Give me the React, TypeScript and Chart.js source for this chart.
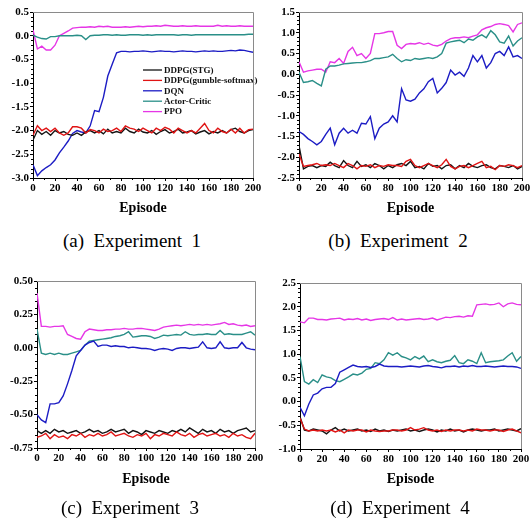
import React, { useEffect, useRef } from "react";
import { Chart, registerables } from "chart.js";

Chart.register(...registerables);

// ---------- data ----------
const EPISODES = [
  0, 4, 8, 12, 16, 20, 24, 28, 32, 36,
  40, 44, 48, 52, 56, 60, 64, 68, 72, 76,
  80, 84, 88, 92, 96, 100, 104, 108, 112, 116,
  120, 124, 128, 132, 136, 140, 144, 148, 152, 156,
  160, 164, 168, 172, 176, 180, 184, 188, 192, 196,
  200,
];

const SERIES_LABELS = ["DDPG(STG)", "DDPG(gumble-softmax)", "DQN", "Actor-Critic", "PPO"];
const SERIES_COLORS = ["#141414", "#e01414", "#1c1cc4", "#2a8f88", "#e636e6"];

const X_TICKS = [0, 20, 40, 60, 80, 100, 120, 140, 160, 180, 200];
const CAPTIONS = ["(a)  Experiment  1", "(b)  Experiment  2", "(c)  Experiment  3", "(d)  Experiment  4"];

// Experiment 1
const EXP1_STG = [
  -2.2, -2.0, -2.08, -2.02, -2.1, -2.0, -2.05, -2.02, -2.08, -2.1,
  -2.05, -2.1, -2.03, -2.0, -2.05, -2.0, -2.07, -1.97, -2.05, -2.02,
  -2.05, -1.95, -2.02, -2.05, -1.97, -2.03, -2.05, -2.0, -2.08, -2.02,
  -1.98, -2.05, -2.02, -1.97, -2.05, -2.03, -2.0, -2.07, -2.03, -2.0,
  -2.07, -2.02, -2.05, -2.0, -2.05, -1.98, -1.95, -2.02, -2.05, -2.0,
  -1.98,
];
const EXP1_GUMBEL = [
  -2.1, -1.9, -2.0, -1.95, -2.02, -1.95, -2.05, -2.1, -2.05, -1.92,
  -1.92, -1.95, -2.05, -1.98, -2.0, -2.05, -1.97, -2.02, -2.0, -1.95,
  -2.02, -1.9, -1.95, -1.97, -2.02, -1.95, -2.0, -2.05, -1.95, -2.0,
  -1.93, -1.97, -2.05, -1.95, -2.0, -2.05, -2.0, -2.05, -1.95, -1.85,
  -2.0, -2.05, -1.95, -2.02, -2.05, -1.97, -2.05, -1.95, -2.05, -1.98,
  -1.97,
];
const EXP1_DQN = [
  -2.72, -2.95, -2.85, -2.78, -2.72, -2.62, -2.47, -2.35, -2.22, -2.06,
  -2.0, -2.03, -2.05, -1.9, -1.58, -1.6, -1.3, -0.85, -0.6, -0.36,
  -0.33, -0.33, -0.34, -0.33, -0.33, -0.32, -0.33, -0.34, -0.33, -0.32,
  -0.33, -0.33, -0.34, -0.33, -0.32, -0.33, -0.33, -0.34, -0.33, -0.32,
  -0.33, -0.32, -0.33, -0.33, -0.32, -0.31, -0.32, -0.3, -0.31, -0.33,
  -0.35,
];
const EXP1_AC = [
  0.01, -0.03, -0.06, -0.07, -0.02, -0.02, 0.0, 0.0, 0.0, 0.0,
  0.01, 0.0, -0.08, 0.0, 0.01, 0.01, 0.02, 0.02, 0.01, 0.02,
  0.01, 0.01, 0.02, 0.02, 0.02, 0.01, 0.02, 0.01, 0.02, 0.02,
  0.02, 0.02, 0.02, 0.01, 0.02, 0.02, 0.01, 0.02, 0.02, 0.02,
  0.02, 0.02, 0.02, 0.02, 0.02, 0.02, 0.02, 0.02, 0.02, 0.03,
  0.03,
];
const EXP1_PPO = [
  0.12, -0.28, -0.22, -0.3, -0.3, -0.2, 0.0, 0.05, 0.1, 0.16,
  0.17, 0.18, 0.18, 0.19, 0.18, 0.2, 0.19, 0.2, 0.18, 0.18,
  0.18, 0.19, 0.18, 0.19, 0.2, 0.19, 0.2, 0.2, 0.21, 0.2,
  0.22, 0.21, 0.2, 0.2, 0.21, 0.2, 0.2, 0.21, 0.2, 0.2,
  0.2, 0.2, 0.22, 0.2, 0.21, 0.2, 0.2, 0.21, 0.2, 0.2,
  0.2,
];

// Experiment 2
const EXP2_STG = [
  -1.72, -2.28, -2.22, -2.2, -2.25, -2.2, -2.22, -2.12, -2.2, -2.25,
  -2.08, -2.2, -2.25, -2.1, -2.22, -2.18, -2.25, -2.15, -2.2, -2.28,
  -2.2, -2.25, -2.18, -2.15, -2.2, -2.1, -2.25, -2.22, -2.28, -2.15,
  -2.22, -2.2, -2.28, -2.2, -2.18, -2.28, -2.2, -2.25, -2.15, -2.22,
  -2.25, -2.2, -2.18, -2.25, -2.28, -2.2, -2.22, -2.25, -2.2, -2.28,
  -2.22,
];
const EXP2_GUMBEL = [
  -1.92, -2.22, -2.2, -2.18, -2.15, -2.2, -2.18, -2.2, -2.15, -2.2,
  -2.25, -2.15, -2.2, -2.28, -2.2, -2.22, -2.18, -2.25, -2.2, -2.22,
  -2.18, -2.2, -2.2, -2.22, -2.1, -2.05, -2.2, -2.25, -2.2, -2.15,
  -2.2, -2.25, -2.18, -2.05, -2.22, -2.28, -2.22, -2.2, -2.25, -2.2,
  -2.15, -2.1, -2.25, -2.22, -2.3, -2.2, -2.22, -2.18, -2.2, -2.25,
  -2.2,
];
const EXP2_DQN = [
  -1.38, -1.45, -1.55, -1.62, -1.7, -1.62, -1.45, -1.3, -1.7, -1.42,
  -1.3, -1.42, -1.35, -1.42, -1.18, -1.2, -1.02, -1.55, -1.3, -1.2,
  -1.15, -1.0, -1.15, -0.35, -0.62, -0.65, -0.6, -0.45, -0.35, -0.18,
  -0.1, -0.45, -0.34, -0.2, 0.1, -0.02, 0.05, -0.05, 0.15, 0.45,
  0.3, 0.45, 0.15, 0.28, 0.5, 0.55, 0.45, 0.66, 0.42, 0.45,
  0.38,
];
const EXP2_AC = [
  0.05, -0.2, -0.18, -0.15, -0.22, -0.28, 0.12, 0.2, 0.2, 0.22,
  0.25, 0.26, 0.27, 0.28, 0.28, 0.3, 0.33, 0.38, 0.38, 0.4,
  0.42, 0.48, 0.38, 0.3, 0.35, 0.33, 0.38, 0.36, 0.38, 0.4,
  0.38, 0.42, 0.5, 0.75, 0.78, 0.8, 0.82, 0.76, 0.85, 0.82,
  0.9, 0.95, 0.88, 1.05, 0.95, 0.78, 0.75, 0.92, 0.68, 0.8,
  0.88,
];
const EXP2_PPO = [
  0.3, 0.05, 0.08, 0.1, 0.12, 0.12, 0.05, 0.3, 0.28, 0.38,
  0.26, 0.55, 0.65, 0.45, 0.5, 0.38, 0.5, 0.98, 0.98, 1.0,
  1.03, 1.03, 0.7, 0.62, 0.72, 0.74, 0.73, 0.76, 0.72, 0.75,
  0.7, 0.68, 0.72, 0.8, 0.86, 0.88, 0.88, 0.9, 0.88, 0.92,
  0.95, 1.07, 1.12, 1.15, 1.2, 1.22, 1.2, 1.17, 1.02, 1.2,
  1.24,
];

// Experiment 3
const EXP3_STG = [
  -0.62, -0.64, -0.62, -0.64, -0.61, -0.63, -0.62, -0.64, -0.63, -0.62,
  -0.64, -0.63, -0.61, -0.63, -0.62, -0.64, -0.63, -0.61, -0.63, -0.62,
  -0.61, -0.64, -0.62, -0.63, -0.65, -0.62, -0.63, -0.64, -0.62, -0.63,
  -0.64, -0.62, -0.63, -0.61, -0.63, -0.6, -0.62, -0.64, -0.61, -0.63,
  -0.62, -0.64, -0.61, -0.63, -0.62, -0.64, -0.62, -0.61, -0.6, -0.63,
  -0.62,
];
const EXP3_GUMBEL = [
  -0.67, -0.66, -0.64, -0.68, -0.65, -0.67, -0.66, -0.68, -0.65, -0.66,
  -0.64, -0.67, -0.65, -0.66, -0.64, -0.66, -0.65, -0.63, -0.66, -0.65,
  -0.64, -0.66, -0.67, -0.65, -0.66, -0.64, -0.68, -0.65, -0.66, -0.64,
  -0.65, -0.66, -0.63, -0.65, -0.66, -0.64, -0.67, -0.65, -0.64, -0.66,
  -0.65, -0.64, -0.66, -0.65, -0.67, -0.64, -0.66, -0.65, -0.67, -0.68,
  -0.64,
];
const EXP3_DQN = [
  -0.5, -0.54, -0.56, -0.42, -0.42, -0.41, -0.36, -0.27, -0.17, -0.06,
  -0.02, 0.02, 0.04, 0.05, 0.01, 0.02, 0.02, 0.01, 0.015, 0.01,
  0.01, 0.0, 0.005, 0.0, -0.005, -0.005, -0.01, -0.02, -0.01, -0.005,
  -0.01, -0.02, -0.005, 0.0, 0.0, -0.005, 0.0, 0.005, 0.045, 0.0,
  -0.005, 0.0, 0.045, 0.0, -0.005, 0.0, 0.0, 0.04, 0.0, -0.01,
  -0.015,
];
const EXP3_AC = [
  0.14, -0.04, -0.05, -0.04, -0.05, -0.04, -0.05, -0.05, -0.04, -0.03,
  -0.02, 0.02, 0.05, 0.055, 0.06, 0.065, 0.07, 0.075, 0.085, 0.09,
  0.1, 0.12, 0.08, 0.085, 0.09, 0.09, 0.085, 0.07, 0.08, 0.095,
  0.09, 0.095, 0.1, 0.095, 0.12, 0.1, 0.095, 0.1, 0.1, 0.105,
  0.1, 0.1, 0.13, 0.1, 0.105, 0.1, 0.1, 0.1, 0.11, 0.12,
  0.095,
];
const EXP3_PPO = [
  0.41, 0.16, 0.16, 0.155, 0.16, 0.16, 0.165, 0.1, 0.085, 0.07,
  0.065, 0.12, 0.14, 0.135, 0.13, 0.13, 0.135, 0.135, 0.14, 0.14,
  0.145, 0.14, 0.14, 0.145, 0.145, 0.14, 0.135, 0.13, 0.14, 0.155,
  0.16, 0.165, 0.17, 0.165, 0.17, 0.175, 0.17, 0.175, 0.17, 0.175,
  0.17, 0.175, 0.18, 0.19, 0.175, 0.18, 0.17, 0.165, 0.17, 0.16,
  0.165,
];

// Experiment 4
const EXP4_STG = [
  -0.32, -0.6, -0.62, -0.58, -0.6, -0.62, -0.68, -0.6, -0.55, -0.62,
  -0.58, -0.62, -0.6, -0.58, -0.62, -0.6, -0.63, -0.58, -0.62, -0.6,
  -0.63, -0.6, -0.62, -0.6, -0.58, -0.62, -0.6, -0.63, -0.6, -0.58,
  -0.6, -0.64, -0.6, -0.62, -0.58, -0.62, -0.6, -0.64, -0.6, -0.58,
  -0.6, -0.62, -0.6, -0.6, -0.58, -0.62, -0.6, -0.58, -0.6, -0.62,
  -0.57,
];
const EXP4_GUMBEL = [
  -0.35, -0.58, -0.62, -0.6, -0.62, -0.6, -0.62, -0.6, -0.64, -0.6,
  -0.66, -0.6, -0.62, -0.6, -0.6, -0.64, -0.6, -0.62, -0.63, -0.62,
  -0.62, -0.6, -0.6, -0.62, -0.6, -0.55, -0.6, -0.58, -0.55, -0.6,
  -0.62, -0.6, -0.63, -0.6, -0.62, -0.6, -0.6, -0.62, -0.6, -0.62,
  -0.58, -0.6, -0.6, -0.62, -0.6, -0.6, -0.63, -0.6, -0.58, -0.62,
  -0.66,
];
const EXP4_DQN = [
  -0.12, -0.3, -0.05, 0.14, 0.18, 0.27, 0.3, 0.3, 0.38, 0.62,
  0.67, 0.72, 0.77, 0.74, 0.73, 0.74, 0.72, 0.74, 0.79, 0.75,
  0.74, 0.74, 0.74, 0.73, 0.74, 0.75, 0.74, 0.73, 0.75, 0.76,
  0.74, 0.73, 0.71, 0.74, 0.74, 0.75, 0.73, 0.75, 0.74, 0.76,
  0.74, 0.74, 0.75, 0.74, 0.73, 0.74, 0.75, 0.74, 0.74, 0.73,
  0.7,
];
const EXP4_AC = [
  0.95, 0.42, 0.37, 0.46, 0.4, 0.56, 0.52, 0.5, 0.44, 0.42,
  0.47, 0.52, 0.58, 0.56, 0.6, 0.68, 0.7, 0.82, 0.8, 0.88,
  1.03, 0.98, 1.03, 0.95, 0.92, 0.88, 0.95, 0.9, 0.96, 0.84,
  0.88, 0.84, 0.82, 0.85, 0.87, 0.97, 0.82, 0.8, 0.88, 0.85,
  0.8, 1.03, 0.82, 0.84, 0.85, 0.86, 0.88, 0.96, 1.03, 0.85,
  0.95,
];
const EXP4_PPO = [
  1.68, 1.66, 1.76, 1.76, 1.73, 1.73, 1.72, 1.74, 1.75, 1.76,
  1.72, 1.74, 1.73, 1.75, 1.72, 1.74, 1.71, 1.73, 1.74, 1.75,
  1.73, 1.77, 1.72, 1.74, 1.72, 1.73, 1.74, 1.75, 1.73, 1.74,
  1.76, 1.72, 1.75, 1.78, 1.77, 1.79, 1.8, 1.78, 1.81, 1.8,
  2.04, 2.05, 2.06, 2.04, 2.05, 2.08, 2.0, 2.06, 2.08, 2.05,
  2.04,
];

// ---------- layout ----------
const FONT = "'Liberation Serif', 'Times New Roman', serif";

type PanelCfg = {
  left: number; top: number; w: number; h: number;
  padTop: number; padRight: number; yWidth: number; xHeight: number; titlePad: number;
  yMin: number; yMax: number; yStep: number; decimals: number;
  series: number[][]; legend: boolean;
};

const PANELS: PanelCfg[] = [
  { left: 0, top: 0, w: 265, h: 225, padTop: 12, padRight: 12, yWidth: 33, xHeight: 47, titlePad: 8,
    yMin: -3, yMax: 0.5, yStep: 0.5, decimals: 1,
    series: [EXP1_STG, EXP1_GUMBEL, EXP1_DQN, EXP1_AC, EXP1_PPO], legend: true },
  { left: 265, top: 0, w: 265, h: 225, padTop: 12, padRight: 8, yWidth: 34, xHeight: 47, titlePad: 8,
    yMin: -2.5, yMax: 1.5, yStep: 0.5, decimals: 1,
    series: [EXP2_STG, EXP2_GUMBEL, EXP2_DQN, EXP2_AC, EXP2_PPO], legend: false },
  { left: 0, top: 260, w: 265, h: 240, padTop: 21, padRight: 10, yWidth: 37, xHeight: 52, titlePad: 12,
    yMin: -0.75, yMax: 0.5, yStep: 0.25, decimals: 2,
    series: [EXP3_STG, EXP3_GUMBEL, EXP3_DQN, EXP3_AC, EXP3_PPO], legend: false },
  { left: 265, top: 260, w: 265, h: 240, padTop: 23, padRight: 9, yWidth: 35, xHeight: 51, titlePad: 12,
    yMin: -1, yMax: 2.5, yStep: 0.5, decimals: 1,
    series: [EXP4_STG, EXP4_GUMBEL, EXP4_DQN, EXP4_AC, EXP4_PPO], legend: false },
];

const CAPTION_POS = [
  { cx: 132, cy: 241 },
  { cx: 398, cy: 241 },
  { cx: 130, cy: 508 },
  { cx: 400, cy: 508 },
];

const framePlugin = {
  id: "frameAndMinor",
  afterDraw(chart: any) {
    const { ctx, chartArea } = chart;
    const { left, right, top, bottom } = chartArea;
    const ys = chart.scales.y;
    const xs = chart.scales.x;
    ctx.save();
    ctx.strokeStyle = "#8a8a8a";
    ctx.lineWidth = 1;
    ctx.beginPath();
    ctx.moveTo(left, Math.round(top) + 0.5);
    ctx.lineTo(Math.round(right) + 0.5, Math.round(top) + 0.5);
    ctx.lineTo(Math.round(right) + 0.5, bottom);
    ctx.stroke();
    // minor ticks
    ctx.strokeStyle = "#000";
    ctx.beginPath();
    const yStep = chart.options.scales.y.ticks.stepSize / 5;
    const n = Math.round((ys.max - ys.min) / yStep);
    for (let i = 0; i <= n; i++) {
      if (i % 5 === 0) continue;
      const py = Math.round(ys.getPixelForValue(ys.min + i * yStep)) + 0.5;
      ctx.moveTo(left - 2, py);
      ctx.lineTo(left, py);
    }
    for (let v = 10; v < 200; v += 20) {
      const px = Math.round(xs.getPixelForValue(v)) + 0.5;
      ctx.moveTo(px, bottom);
      ctx.lineTo(px, bottom + 2);
    }
    ctx.stroke();
    ctx.restore();
  },
};

const legendPlugin = {
  id: "innerLegend",
  afterDatasetsDraw(chart: any) {
    if (!chart.options.plugins.innerLegend?.show) return;
    const { ctx, chartArea } = chart;
    const x0 = chartArea.left + chartArea.width * 0.5;
    const y0 = chartArea.top + 58;
    ctx.save();
    ctx.font = `bold 9px ${FONT}`;
    ctx.textBaseline = "middle";
    ctx.textAlign = "left";
    chart.data.datasets.forEach((ds: any, i: number) => {
      const y = y0 + i * 10.4;
      ctx.strokeStyle = ds.borderColor;
      ctx.lineWidth = 1.3;
      ctx.beginPath();
      ctx.moveTo(x0, y);
      ctx.lineTo(x0 + 19, y);
      ctx.stroke();
      ctx.fillStyle = "#111";
      ctx.fillText(ds.label, x0 + 21, y + 0.5);
    });
    ctx.restore();
  },
};

function Panel({ cfg }: { cfg: PanelCfg }) {
  const ref = useRef<HTMLCanvasElement>(null);
  useEffect(() => {
    if (!ref.current) return;
    const tickFont = { family: FONT, size: 11, weight: "bold" as const };
    const chart = new Chart(ref.current, {
      type: "line",
      data: {
        datasets: cfg.series.map((vals, si) => ({
          label: SERIES_LABELS[si],
          data: EPISODES.map((x, i) => ({ x, y: vals[i] })),
          borderColor: SERIES_COLORS[si],
          backgroundColor: SERIES_COLORS[si],
          borderWidth: 1.4,
          pointRadius: 0,
          tension: 0,
          fill: false,
          order: si === 0 ? 1 : si === 1 ? 0 : si + 1,
        })),
      },
      options: {
        responsive: false,
        animation: false,
        devicePixelRatio: 1,
        layout: { padding: { top: cfg.padTop, right: cfg.padRight, left: 0, bottom: 0 } },
        plugins: {
          legend: { display: false },
          tooltip: { enabled: false },
          innerLegend: { show: cfg.legend },
        } as any,
        scales: {
          x: {
            type: "linear",
            min: 0,
            max: 200,
            afterBuildTicks: (s: any) => {
              s.ticks = X_TICKS.map((v) => ({ value: v }));
            },
            ticks: {
              stepSize: 20,
              autoSkip: false,
              maxRotation: 0,
              minRotation: 0,
              font: tickFont,
              color: "#000",
              padding: 1,
            },
            grid: { drawOnChartArea: false, tickLength: 3, color: "#000" },
            border: { color: "#000", width: 1 },
            title: {
              display: true,
              text: "Episode",
              color: "#000",
              font: { family: FONT, size: 14, weight: "bold" },
              padding: { top: 0, bottom: cfg.titlePad },
            },
            afterFit: (s: any) => {
              s.height = cfg.xHeight;
              s.paddingLeft = 0;
              s.paddingRight = 0;
            },
          },
          y: {
            type: "linear",
            min: cfg.yMin,
            max: cfg.yMax,
            ticks: {
              stepSize: cfg.yStep,
              font: tickFont,
              color: "#000",
              padding: 1,
              callback: (v: any) => Number(v).toFixed(cfg.decimals),
            },
            grid: { drawOnChartArea: false, tickLength: 3, color: "#000" },
            border: { color: "#000", width: 1 },
            afterFit: (s: any) => {
              s.width = cfg.yWidth;
              s.paddingTop = 0;
              s.paddingBottom = 0;
            },
          },
        },
      } as any,
      plugins: [framePlugin, legendPlugin],
    });
    return () => chart.destroy();
  }, [cfg]);
  return (
    <canvas
      ref={ref}
      width={cfg.w}
      height={cfg.h}
      style={{ position: "absolute", left: cfg.left, top: cfg.top, width: cfg.w, height: cfg.h, display: "block" }}
    />
  );
}

export default function App() {
  return (
    <div style={{ position: "absolute", left: 0, top: 0, width: 530, height: 525, background: "#fff", overflow: "hidden" }}>
      {PANELS.map((p, i) => (
        <Panel key={i} cfg={p} />
      ))}
      {CAPTIONS.map((c, i) => (
        <div
          key={"c" + i}
          style={{
            position: "absolute",
            left: CAPTION_POS[i].cx - 132,
            top: CAPTION_POS[i].cy - 12,
            width: 264,
            height: 24,
            lineHeight: "24px",
            textAlign: "center",
            fontFamily: FONT,
            fontSize: 19,
            whiteSpace: "pre",
            color: "#000",
          }}
        >
          {c}
        </div>
      ))}
    </div>
  );
}
